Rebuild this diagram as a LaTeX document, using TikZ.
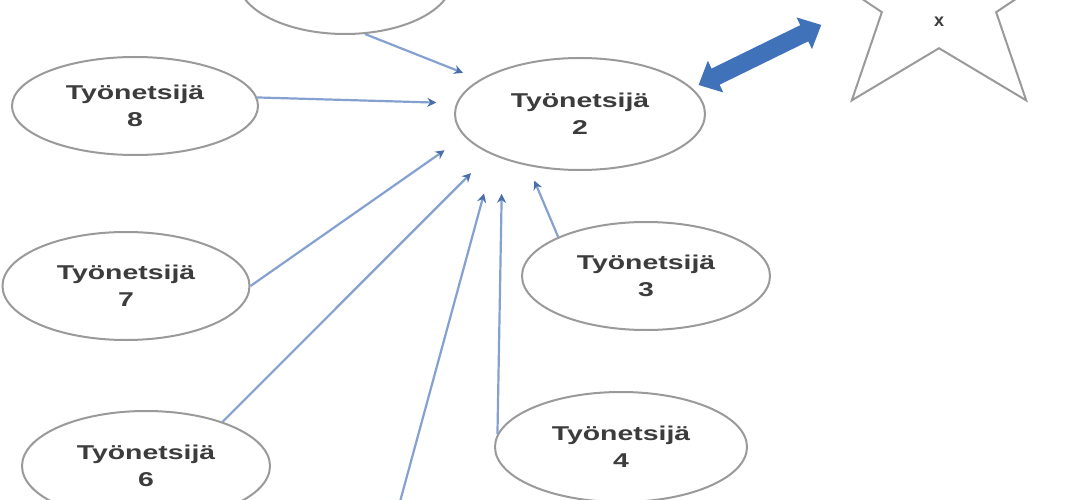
\documentclass[tikz,border=0pt]{standalone}
\usepackage{fontspec}
\setmainfont{Liberation Sans}
\usetikzlibrary{shapes.geometric,arrows.meta}
\definecolor{edgegray}{HTML}{9A9A9A}
\definecolor{linkblue}{HTML}{85A1D0}
\definecolor{headblue}{HTML}{4A6EA9}
\definecolor{bigblue}{HTML}{3F72B8}
\definecolor{txtgray}{HTML}{3C3C3C}
\newcommand\mylbl[2]{\scalebox{1.42}[1]{#1}\\\scalebox{1.42}[1]{#2}}
\tikzset{
  ell/.style={ellipse, draw=edgegray, line width=2pt, fill=white, inner sep=0pt,
    align=center, text=txtgray, font=\fontsize{20pt}{27pt}\selectfont\bfseries},
  txt/.style={text=txtgray, inner sep=0pt, font=\fontsize{18pt}{22pt}\selectfont\bfseries},
  link/.style={draw=linkblue, line width=2.2pt, -{Stealth[length=9pt,width=9pt,color=headblue]}},
  biglink/.style={draw=bigblue, line width=18pt,
    {Triangle[length=19pt,width=34pt]}-{Triangle[length=19pt,width=34pt]}},
  starshape/.style={star, star points=5, star point ratio=2.47, minimum size=258pt,
    draw=edgegray, line width=2pt, inner sep=0pt}
}
\begin{document}
\begin{tikzpicture}[x=1pt,y=-1pt]
\useasboundingbox (0,0) rectangle (1090,500);
\clip (0,0) rectangle (1090,500);
\fill[white] (0,0) rectangle (1090,500);
% nodes
\node[ell, minimum width=215pt, minimum height=110pt] (e1) at (345,-21) {};
\node[ell, minimum width=250pt, minimum height=112pt] (e2) at (580,114) {\mylbl{Työnetsijä}{2}};
\node[ell, minimum width=246pt, minimum height=98pt] (e8) at (135,106) {\mylbl{Työnetsijä}{8}};
\node[ell, minimum width=247pt, minimum height=108pt] (e7) at (126,286) {\mylbl{Työnetsijä}{7}};
\node[ell, minimum width=248pt, minimum height=108pt] (e3) at (646,276) {\mylbl{Työnetsijä}{3}};
\node[ell, minimum width=252pt, minimum height=110pt] (e4) at (621,447) {\mylbl{Työnetsijä}{4}};
\node[ell, minimum width=248pt, minimum height=110pt] (e6) at (146,466) {\mylbl{Työnetsijä}{6}};
\begin{scope}[shift={(939,-4)}, xscale=1.15]
  \node[starshape, transform shape] (s) at (0,0) {};
\end{scope}
\node[txt] (sx) at (939,22) {x};
\coordinate (starside) at (868,2);
\coordinate (c5) at (395,520);
% connectors
\draw[link, shorten >=18pt] (e1.-70) -- (e2.161.6);
\draw[link, shorten >=20pt] (e8.4) -- (e2.175.4);
\draw[link, shorten >=24pt] (e7.east) -- (e2.-169.7);
\draw[link, shorten >=27pt] (e6.30) -- (e2.-156.8);
\draw[link, shorten >=39pt] (c5) -- (e2.-154.4);
\draw[link, shorten >=35pt] (e4.174.6) -- (e2.-150.3);
\draw[link, shorten >=16pt] (e3.156.8) -- (e2.-135.6);
\draw[biglink, shorten >=52pt, shorten <=7pt] (e2.13) -- (starside);
\end{tikzpicture}
\end{document}
